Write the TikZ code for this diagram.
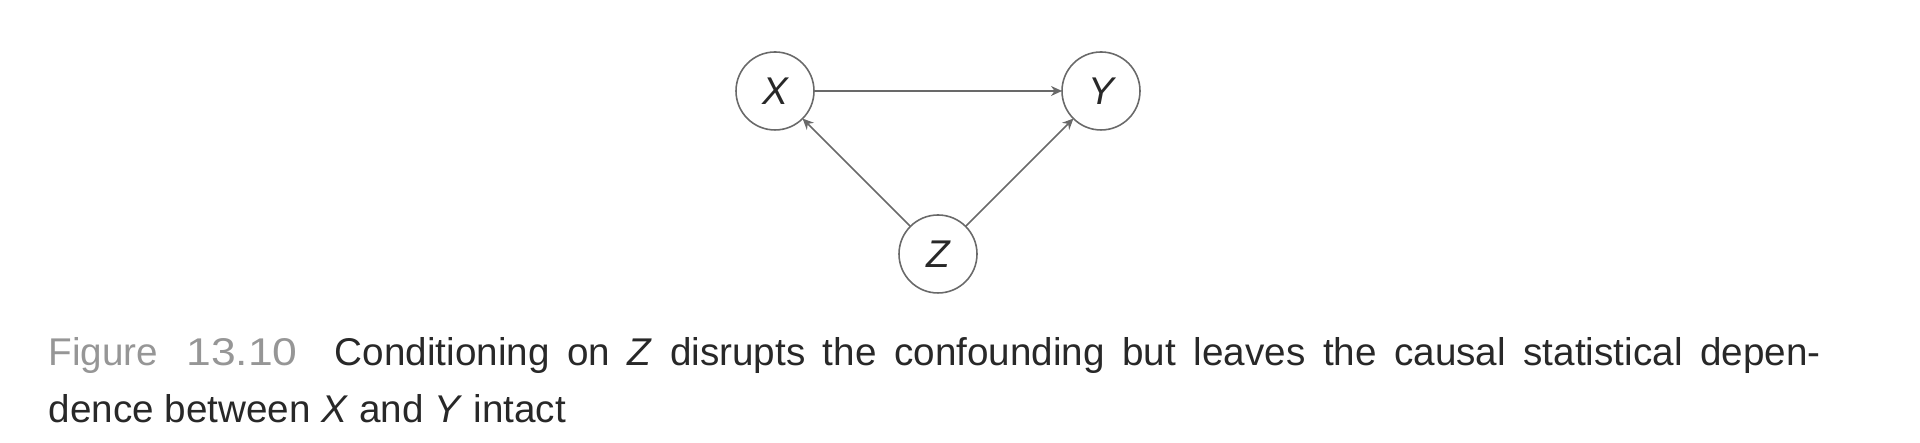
\documentclass[tikz,border=0pt]{standalone}
\usepackage{fontspec}
\setmainfont{Liberation Sans}
\usepackage{xcolor}
\usepackage{graphicx}
\usetikzlibrary{arrows.meta,positioning}
\definecolor{edgegray}{RGB}{105,105,105}
\definecolor{textgray}{RGB}{40,40,40}
\definecolor{figgray}{RGB}{150,150,150}

\begin{document}
\begin{tikzpicture}[node distance=2.48cm,
        var/.style={circle,draw=edgegray,line width=0.45pt,minimum size=0.78cm,inner sep=0pt,
          outer sep=0pt,text=textgray,font=\fontsize{11}{13}\selectfont\itshape},
        arrow/.style={-{Stealth[length=1.1mm,width=1mm]},draw=edgegray,line width=0.45pt},
        capt/.style={anchor=base west,inner sep=0pt,text=textgray,font=\fontsize{11}{13}\selectfont}]
        \useasboundingbox (0,0) rectangle (19.2,4.43);
        % causal graph
        \node[var] (x) at (7.75,3.52) {X};
        \node[var,right=of x] (y) {Y};
        \node[var] (z) at (9.38,1.89) {Z};
        \draw[arrow] (x) -- (y);
        \draw[arrow] (z) -- (x);
        \draw[arrow] (z) -- (y);
        % caption
        \node[capt] (cap1) at (0.48,0.77) {\makebox[17.72cm][s]{\makebox[2.49cm][s]{\textcolor{figgray}{Figure\hfill\scalebox{1.15}[1]{13.10}}}\hspace{0.37cm}\mbox{Conditioning} on \textit{Z} disrupts the confounding but leaves the causal statistical depen-}};
        \node[capt] (cap2) at (0.48,0.20) {dence between \textit{X} and \textit{Y} intact};
      \end{tikzpicture}
\end{document}
